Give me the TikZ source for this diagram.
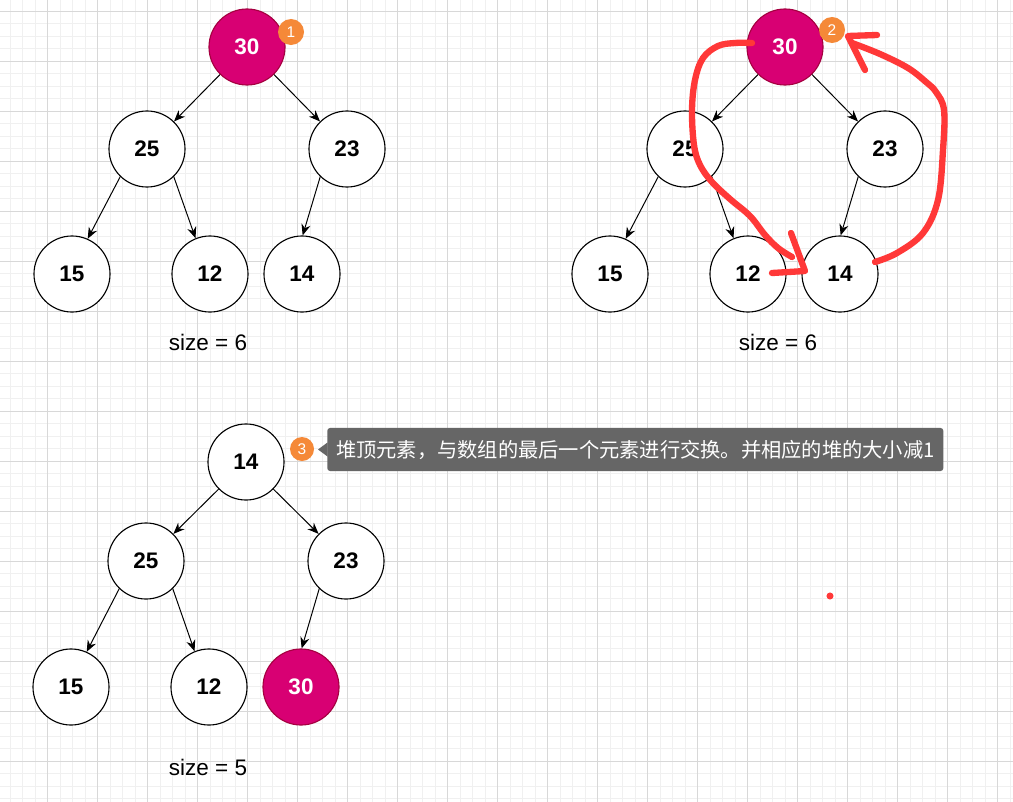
\documentclass[tikz,border=0pt]{standalone}
\usepackage{fontspec}
\setmainfont{Liberation Sans}
\newfontfamily\cjk{Noto Sans CJK SC}
\usetikzlibrary{arrows.meta}

\definecolor{heapmag}{HTML}{D80073}
\definecolor{heapmagline}{HTML}{A50040}
\definecolor{badgeorange}{RGB}{245,137,56}
\definecolor{penred}{RGB}{255,56,56}
\definecolor{tipgray}{HTML}{666666}
\definecolor{gridminor}{RGB}{240,240,240}
\definecolor{gridmajor}{RGB}{216,216,216}

\begin{document}
\begin{tikzpicture}[x=0.025cm,y=-0.025cm,
  key/.style={circle,draw,fill=white,line width=0.8pt,minimum size=1.9cm,inner sep=0pt,font=\fontsize{16}{18}\selectfont\bfseries},
  top/.style={key,fill=heapmag,draw=heapmagline,text=white},
  badge/.style={circle,fill=badgeorange,text=white,minimum size=0.65cm,inner sep=0pt,font=\fontsize{11}{12}\selectfont},
  sizelabel/.style={font=\fontsize{16}{18}\selectfont},
  link/.style={-{Stealth[length=8pt,width=6.5pt]},line width=0.7pt},
  pen/.style={penred,line width=4.5pt,line cap=round,line join=round}]
  \useasboundingbox (0,0) rectangle (1013,802);
  \fill[white] (0,0) rectangle (1013,802);
  % grid
  \foreach \gx in {0,...,80} \draw[gridminor,line width=0.7pt] ({10+12.5*\gx},0) -- ({10+12.5*\gx},802);
  \foreach \gy in {1,...,64} \draw[gridminor,line width=0.7pt] (0,{-1.25+12.5*\gy}) -- (1013,{-1.25+12.5*\gy});
  \foreach \gx in {0,...,19} \draw[gridmajor,line width=0.7pt] ({47.5+50*\gx},0) -- ({47.5+50*\gx},802);
  \foreach \gy in {0,...,15} \draw[gridmajor,line width=0.7pt] (0,{11.25+50*\gy}) -- (1013,{11.25+50*\gy});

  % heap 1
  \node[top] (a30) at (247,47) {30};
  \node[badge] (m1) at (291,32) {1};
  \node[key] (a25) at (147,149) {25};
  \node[key] (a23) at (347,149) {23};
  \node[key] (a15) at (72,274) {15};
  \node[key] (a12) at (210,274) {12};
  \node[key] (a14) at (302,274) {14};
  \node[sizelabel] (asize) at (208,342) {size = 6};
  \draw[link] (a30) -- (a25);
  \draw[link] (a30) -- (a23);
  \draw[link] (a25.226) -- (a15.66);
  \draw[link] (a25.314) -- (a12.112);
  \draw[link] (a23.226) -- (a14.89);

  % heap 2, swap
  \node[top] (b30) at (785,47) {30};
  \node[badge] (m2) at (832,30) {2};
  \node[key] (b25) at (685,149) {25};
  \node[key] (b23) at (885,149) {23};
  \node[key] (b15) at (610,274) {15};
  \node[key] (b12) at (748,274) {12};
  \node[key] (b14) at (840,274) {14};
  \node[sizelabel] (bsize) at (778,342) {size = 6};
  \draw[link] (b30) -- (b25);
  \draw[link] (b30) -- (b23);
  \draw[link] (b25.226) -- (b15.66);
  \draw[link] (b25.314) -- (b12.112);
  \draw[link] (b23.226) -- (b14.89);
  \draw[pen] plot[smooth,tension=0.6] coordinates {(752,43) (735,43) (718,46) (703,58) (695,80) (692,110) (694,145) (700,165) (712,182) (730,199) (750,216) (765,235) (778,248) (792,257)};
  \draw[pen] (791,233) -- (805,271) -- (772,273);
  \draw[pen] plot[smooth,tension=0.6] coordinates {(875,262) (897,253) (923,233) (938,200) (943,150) (944,110) (936,92) (926,82) (908,68) (880,54) (852,43)};
  \draw[pen] (877,35) -- (848,36) -- (865,70);

  % heap 3
  \node[key] (c14) at (246,462) {14};
  \node[badge,minimum size=0.6cm] (m3) at (302,449) {3};
  \node[key] (c25) at (146,561) {25};
  \node[key] (c23) at (346,561) {23};
  \node[key] (c15) at (71,687) {15};
  \node[key] (c12) at (209,687) {12};
  \node[top] (c30) at (301,687) {30};
  \node[sizelabel] (csize) at (208,767) {size = 5};
  \draw[link] (c14) -- (c25);
  \draw[link] (c14) -- (c23);
  \draw[link] (c25.226) -- (c15.66);
  \draw[link] (c25.314) -- (c12.112);
  \draw[link] (c23.226) -- (c30.89);

  % note
  \node[anchor=west,fill=tipgray,rounded corners=2pt,inner xsep=0.22cm,minimum height=1.075cm,text=white,font=\cjk\fontsize{14.4}{16}\selectfont] (note) at (327,449.5) {堆顶元素，与数组的最后一个元素进行交换。并相应的堆的大小减1};
  \fill[tipgray] (note.west) ++(0.5,-7) -- ++(-9.5,7) -- ++(9.5,7) -- cycle;
  \fill[penred] (830,596) circle (2.5pt);
\end{tikzpicture}
\end{document}
